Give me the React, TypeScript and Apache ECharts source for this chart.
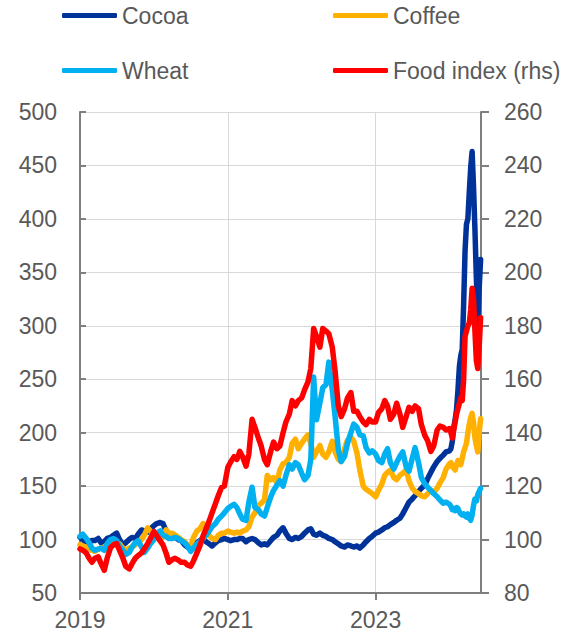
import React, { useEffect, useRef } from "react";
import * as echarts from "echarts";

// Semi-monthly observation dates 2019-2023, weekly dates in 2024
const semiMonthlyYears = [2019, 2020, 2021, 2022, 2023];
const semiMonthlyDays = ["01", "15"];
const weeks2024 = [
  "2024-01-01", "2024-01-08", "2024-01-15", "2024-01-22", "2024-01-29",
  "2024-02-05", "2024-02-12", "2024-02-19", "2024-02-26",
  "2024-03-04", "2024-03-11", "2024-03-18", "2024-03-25",
  "2024-04-01", "2024-04-08", "2024-04-15", "2024-04-22", "2024-04-29",
  "2024-05-06", "2024-05-13", "2024-05-20", "2024-05-27", "2024-06-03",
];
const endDate = "2024-06-05";

const xTickYears = [2019, 2021, 2023];

// Cocoa (index, lhs)
const cocoa = [
  102, 100, 97, 98, 99, 99, 101, 97, 98, 101, 102, 104, 106, 100, 95, 97, 100, 102, 101, 105, 109, 108, 107, 110,
  113, 115, 116, 115, 108, 104, 102, 102, 100, 99, 95, 93, 92, 94, 97, 99, 101, 98, 96, 94, 97, 99, 100, 101,
  100, 99, 100, 100, 101, 101, 98, 100, 101, 100, 97, 95, 96, 95, 99, 102, 104, 108, 111, 106, 101, 100, 102, 101,
  103, 106, 109, 110, 105, 104, 106, 104, 103, 101, 100, 98, 96, 94, 93, 95, 94, 93, 94, 92, 95, 98, 101, 103,
  106, 107, 109, 111, 112, 114, 116, 118, 120, 124, 130, 135, 138, 141, 145, 148, 151, 157, 163, 168, 173, 176, 179, 182,
  183, 185, 192, 205, 212, 222, 240, 262, 272, 278, 320, 370, 395, 400, 425, 448, 463, 430, 390, 345, 300, 335, 362,
];

// Coffee (index, lhs)
const coffee = [
  95, 94, 93, 92, 90, 89, 91, 92, 93, 95, 97, 97, 96, 96, 92, 90, 92, 93, 95, 97, 100, 104, 111, 108,
  105, 102, 100, 103, 109, 106, 106, 104, 102, 100, 98, 95, 94, 102, 108, 110, 115, 110, 104, 101, 100, 104, 106, 106,
  108, 107, 106, 107, 106, 108, 109, 112, 121, 125, 132, 134, 137, 160, 156, 158, 153, 165, 171, 172, 177, 190, 194, 185,
  190, 194, 198, 190, 177, 182, 188, 180, 177, 182, 192, 182, 175, 173, 185, 193, 196, 192, 181, 165, 150, 147, 145, 143,
  140, 146, 152, 160, 163, 165, 158, 156, 160, 162, 165, 155, 148, 145, 143, 141, 140, 143, 146, 144, 148, 153, 158, 166,
  171, 172, 168, 167, 165, 170, 174, 172, 170, 176, 182, 186, 190, 200, 208, 214, 218, 210, 195, 188, 182, 200, 213,
];

// Wheat (index, lhs)
const wheat = [
  103, 105, 101, 97, 92, 90, 91, 92, 90, 96, 100, 101, 99, 94, 90, 86, 88, 93, 97, 99, 93, 88, 92, 96,
  100, 106, 108, 104, 103, 101, 101, 102, 101, 99, 97, 94, 89, 92, 96, 98, 101, 104, 108, 112, 115, 119, 122, 125,
  129, 131, 133, 130, 124, 119, 118, 135, 149, 130, 128, 124, 122, 130, 140, 146, 151, 155, 150, 160, 170, 166, 172, 170,
  162, 156, 160, 175, 252, 212, 228, 242, 245, 266, 240, 215, 184, 173, 178, 190, 200, 208, 205, 198, 197, 186, 181, 183,
  180, 174, 172, 180, 185, 172, 166, 172, 178, 182, 168, 164, 176, 186, 172, 158, 152, 149, 146, 143, 140, 137, 134, 135,
  133, 131, 128, 129, 127, 130, 129, 126, 124, 123, 124, 122, 121, 124, 120, 118, 123, 132, 138, 136, 142, 145, 148,
];

// Food index (rhs)
const food = [
  96.5, 96, 95, 93, 91.5, 93, 93.5, 91, 88.5, 93, 97, 98, 98.5, 96, 93, 90, 89, 91, 93, 94, 95, 96.5, 98.5, 100.5,
  103, 101.5, 99.5, 98, 95, 91.5, 92.5, 93, 92.3, 91.5, 91.5, 90.5, 90, 92, 95, 97.5, 101.5, 104, 107, 110, 113.5, 116.5, 119.5, 120,
  127, 129, 131, 130, 133, 131, 127.5, 132, 145, 142, 138, 135, 130, 128, 133, 136.5, 134, 135, 140, 144, 147, 152, 150, 152,
  153, 156, 159, 164, 179, 176, 172, 179, 178, 177, 172, 163, 150, 146, 149, 153, 155, 148, 148, 146, 144, 143, 145, 144,
  144, 147.5, 149, 152, 150, 145, 147, 151, 147, 142, 146, 149.5, 148, 150, 149, 143, 139, 137, 133, 135, 141, 142.5, 142, 141,
  141.5, 140, 138, 141, 144, 147, 149, 151, 153, 152, 160, 176, 178, 180, 181, 186, 194, 190, 178, 167, 164, 172, 183,
];

const seriesNames = ["Cocoa", "Coffee", "Wheat", "Food index (rhs)"];
const seriesColors = ["#003399", "#FFB000", "#00B0F0", "#FF0000"];

const dates: string[] = [];
for (const y of semiMonthlyYears) {
  for (let m = 1; m <= 12; m++) {
    for (const d of semiMonthlyDays) dates.push(`${y}-${String(m).padStart(2, "0")}-${d}`);
  }
}
dates.push(...weeks2024);

function toYear(s: string): number {
  const t = Date.parse(s + "T00:00:00Z");
  const y = new Date(t).getUTCFullYear();
  const a = Date.UTC(y, 0, 1);
  const b = Date.UTC(y + 1, 0, 1);
  return y + (t - a) / (b - a);
}

const FONT = "'Liberation Sans', Arial, sans-serif";
const TEXT = "#595959";
const AXIS = "#7F7F7F";
const GRID = "#D9D9D9";

export default function App() {
  const ref = useRef<HTMLDivElement>(null);
  useEffect(() => {
    if (!ref.current) return;
    const chart = echarts.init(ref.current, null, { renderer: "svg" });
    const xs = dates.map(toYear);
    const values = [cocoa, coffee, wheat, food];
    const legendCommon = {
      icon: "roundRect",
      itemWidth: 55,
      itemHeight: 5,
      itemGap: 0,
      padding: 0,
      selectedMode: false,
      textStyle: { fontSize: 23, color: TEXT, fontFamily: FONT },
    };
    chart.setOption({
      animation: false,
      backgroundColor: "#ffffff",
      grid: { left: 80, right: 86, top: 112, bottom: 40, containLabel: false },
      legend: [
        { ...legendCommon, data: [seriesNames[0]], left: 62, top: 4 },
        { ...legendCommon, data: [seriesNames[1]], left: 333, top: 4 },
        { ...legendCommon, data: [seriesNames[2]], left: 62, top: 59 },
        { ...legendCommon, data: [seriesNames[3]], left: 333, top: 59 },
      ],
      xAxis: {
        type: "value",
        min: 2019,
        max: toYear(endDate),
        interval: 2,
        axisLine: { show: true, lineStyle: { color: AXIS, width: 2 } },
        axisTick: { show: true, length: 7, lineStyle: { color: AXIS, width: 2 }, customValues: xTickYears },
        axisLabel: {
          fontSize: 23,
          color: TEXT,
          fontFamily: FONT,
          margin: 15,
          customValues: xTickYears,
          formatter: (v: number) => String(Math.round(v)),
        },
        splitLine: { show: true, lineStyle: { color: GRID, width: 1 } },
      },
      yAxis: [
        {
          type: "value",
          min: 50,
          max: 500,
          interval: 50,
          axisLine: { show: true, lineStyle: { color: AXIS, width: 2 } },
          axisTick: { show: true, inside: true, length: 6, lineStyle: { color: AXIS, width: 2 } },
          axisLabel: { fontSize: 23, color: TEXT, fontFamily: FONT, margin: 23 },
          splitLine: { show: true, lineStyle: { color: GRID, width: 1 } },
        },
        {
          type: "value",
          position: "right",
          min: 80,
          max: 260,
          interval: 20,
          axisLine: { show: true, lineStyle: { color: AXIS, width: 2 } },
          axisTick: { show: true, inside: false, length: 8, lineStyle: { color: AXIS, width: 2 } },
          axisLabel: { fontSize: 23, color: TEXT, fontFamily: FONT, margin: 23 },
          splitLine: { show: false },
        },
      ],
      series: seriesNames.map((name, i) => ({
        name,
        type: "line",
        yAxisIndex: i === 3 ? 1 : 0,
        data: xs.map((x, j) => [x, values[i][j]]),
        showSymbol: false,
        symbol: "none",
        color: seriesColors[i],
        lineStyle: { width: 5.5, color: seriesColors[i], cap: "round", join: "round" },
        z: 2 + i,
      })),
    });
    return () => chart.dispose();
  }, []);
  return (
    <div
      ref={ref}
      style={{ position: "fixed", left: 0, top: 0, width: 567, height: 633 }}
    />
  );
}
